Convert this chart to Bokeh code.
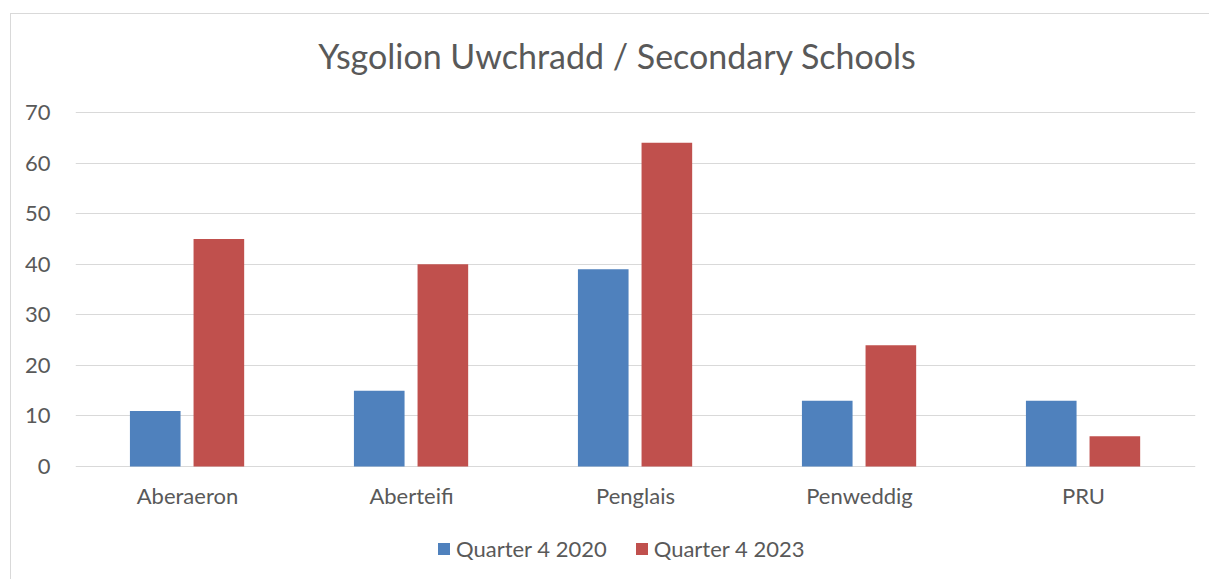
from bokeh.plotting import figure
from bokeh.models import ColumnDataSource, FactorRange, Legend, LegendItem, FixedTicker, Range1d, Label
from bokeh.transform import dodge
from bokeh.embed import file_html
from bokeh.resources import INLINE

schools = ["Aberaeron", "Aberteifi", "Penglais", "Penweddig", "PRU"]
q4_2020 = [11, 15, 39, 13, 13]
q4_2023 = [45, 40, 64, 24, 6]
y_ticks = [0, 10, 20, 30, 40, 50, 60, 70]
series_names = ["Quarter 4 2020", "Quarter 4 2023"]
title_text = "Ysgolion Uwchradd / Secondary Schools"

FONT = "Lato"
GREY = "#595959"

src = ColumnDataSource(dict(school=schools, a=q4_2020, b=q4_2023))

p = figure(x_range=FactorRange(*schools), y_range=Range1d(-22.54, 89.38), width=1199, height=566,
           output_backend="svg", toolbar_location=None,
           min_border_left=64, min_border_right=15, min_border_top=0, min_border_bottom=0,
           styles={"border-left": "1px solid #d9d9d9", "border-top": "1px solid #d9d9d9",
                   "margin-left": "10px", "margin-top": "13px"})
p.outline_line_color = None
p.background_fill_color = "white"
p.border_fill_color = "white"

r1 = p.vbar(x=dodge("school", -0.144, range=p.x_range), top="a", width=0.226, source=src,
            fill_color="#4F81BD", line_color=None)
r2 = p.vbar(x=dodge("school", 0.140, range=p.x_range), top="b", width=0.226, source=src,
            fill_color="#C0504D", line_color=None)

p.x_range.range_padding = 0
p.xgrid.grid_line_color = None
p.ygrid.grid_line_color = "#d9d9d9"
p.ygrid.grid_line_width = 1
p.yaxis.ticker = FixedTicker(ticks=y_ticks)
p.xaxis.fixed_location = 0

for ax in (p.xaxis[0], p.yaxis[0]):
    ax.axis_line_color = None
    ax.major_tick_line_color = None
    ax.minor_tick_line_color = None
    ax.major_label_text_color = GREY
    ax.major_label_text_font = FONT
    ax.major_label_text_font_size = "22px"
p.yaxis.major_label_standoff = 19
p.xaxis.major_label_standoff = 9

title = Label(x=542, y=525, x_units="screen", y_units="screen", text=title_text,
              text_font=FONT, text_font_size="34px", text_color=GREY,
              text_align="center", text_baseline="alphabetic")
p.add_layout(title)

legend = Legend(items=[LegendItem(label=series_names[0], renderers=[r1]),
                       LegendItem(label=series_names[1], renderers=[r2])],
                orientation="horizontal", location=(361, 18),
                padding=0, margin=0, spacing=27, glyph_width=15, glyph_height=15,
                label_standoff=5, label_text_font=FONT, label_text_font_size="22px",
                label_text_color=GREY, border_line_color=None, background_fill_alpha=0)
p.add_layout(legend, "center")

open("out.html", "w").write(file_html(p, INLINE))
